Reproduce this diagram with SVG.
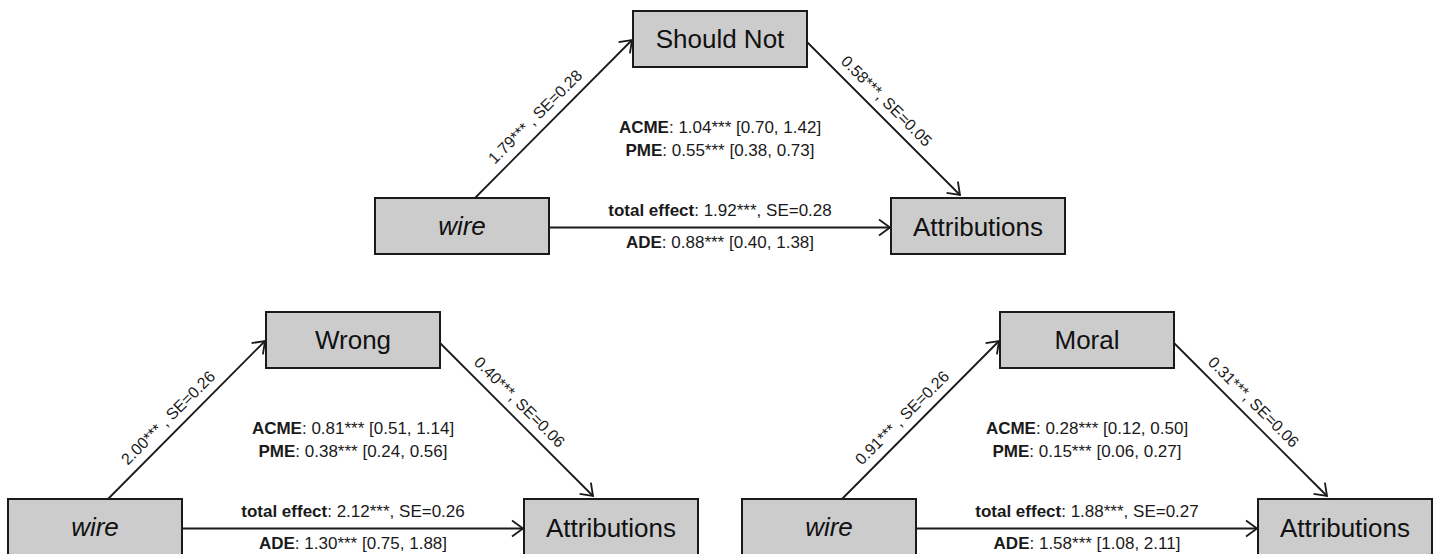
<svg xmlns="http://www.w3.org/2000/svg" width="1438" height="554" viewBox="0 0 1438 554">
<defs>
<style>
.box{fill:#cccccc;stroke:#1a1a1a;stroke-width:2}
.nt{font-family:"Liberation Sans",Arial,sans-serif;font-size:26px;fill:#111;text-anchor:middle}
.it{font-style:italic}
.lab{font-family:"Liberation Sans",Arial,sans-serif;font-size:17px;fill:#1a1a1a;text-anchor:middle}
.el{font-family:"Liberation Sans",Arial,sans-serif;font-size:16px;fill:#1a1a1a;text-anchor:middle}
.b{font-weight:bold}
.edge{stroke:#1a1a1a;stroke-width:1.8;fill:none;marker-end:url(#arr)}
</style>
<marker id="arr" markerUnits="userSpaceOnUse" markerWidth="16" markerHeight="22" viewBox="-14 -11 16 22" refX="0" refY="0" orient="auto">
<path d="M-11,-8 L0,0 L-11,8" fill="none" stroke="#1a1a1a" stroke-width="1.8"/>
</marker>
</defs>
<rect width="1438" height="554" fill="#ffffff"/>

<g id="connectors">
<line class="edge" x1="475" y1="198" x2="632" y2="40"/>
<line class="edge" x1="807" y1="42" x2="960" y2="195"/>
<line class="edge" x1="549" y1="227.5" x2="890" y2="227.5"/>
<line class="edge" x1="108" y1="499" x2="265" y2="341"/>
<line class="edge" x1="440" y1="343" x2="593" y2="496"/>
<line class="edge" x1="182" y1="528.5" x2="523" y2="528.5"/>
<line class="edge" x1="842" y1="499" x2="999" y2="341"/>
<line class="edge" x1="1174" y1="343" x2="1327" y2="496"/>
<line class="edge" x1="916" y1="528.5" x2="1257" y2="528.5"/>
</g>

<g id="top-wire"><rect class="box" x="375" y="198" width="174" height="56"/><text class="nt it" x="462" y="235">wire</text></g>
<g id="top-shouldnot"><rect class="box" x="633" y="11" width="174" height="56"/><text class="nt" x="720" y="48">Should Not</text></g>
<g id="top-attributions"><rect class="box" x="891" y="198" width="174" height="56"/><text class="nt" x="978" y="235.5">Attributions</text></g>

<g id="bl-wire"><rect class="box" x="8" y="499" width="174" height="56"/><text class="nt it" x="95" y="536">wire</text></g>
<g id="bl-wrong"><rect class="box" x="266" y="312" width="174" height="56"/><text class="nt" x="353" y="349">Wrong</text></g>
<g id="bl-attributions"><rect class="box" x="524" y="499" width="174" height="56"/><text class="nt" x="611" y="536.5">Attributions</text></g>

<g id="br-wire"><rect class="box" x="742" y="499" width="174" height="56"/><text class="nt it" x="829" y="536">wire</text></g>
<g id="br-moral"><rect class="box" x="1000" y="312" width="174" height="56"/><text class="nt" x="1087" y="349">Moral</text></g>
<g id="br-attributions"><rect class="box" x="1258" y="499" width="174" height="56"/><text class="nt" x="1345" y="536.5">Attributions</text></g>

<g id="labels">
<text class="el" transform="translate(539,120.6) rotate(-45)">1.79*** , SE=0.28</text>
<text class="el" transform="translate(882.7,104.9) rotate(45)">0.58***, SE=0.05</text>
<text class="lab" x="720" y="132.5"><tspan class="b">ACME</tspan>: 1.04*** [0.70, 1.42]</text>
<text class="lab" x="720" y="156"><tspan class="b">PME</tspan>: 0.55*** [0.38, 0.73]</text>
<text class="lab" x="720" y="216"><tspan class="b">total effect</tspan>: 1.92***, SE=0.28</text>
<text class="lab" x="720" y="247.5"><tspan class="b">ADE</tspan>: 0.88*** [0.40, 1.38]</text>

<text class="el" transform="translate(172,421.6) rotate(-45)">2.00*** , SE=0.26</text>
<text class="el" transform="translate(515.7,405.9) rotate(45)">0.40***, SE=0.06</text>
<text class="lab" x="353" y="433.5"><tspan class="b">ACME</tspan>: 0.81*** [0.51, 1.14]</text>
<text class="lab" x="353" y="457"><tspan class="b">PME</tspan>: 0.38*** [0.24, 0.56]</text>
<text class="lab" x="353" y="517"><tspan class="b">total effect</tspan>: 2.12***, SE=0.26</text>
<text class="lab" x="353" y="548.5"><tspan class="b">ADE</tspan>: 1.30*** [0.75, 1.88]</text>

<text class="el" transform="translate(906,421.6) rotate(-45)">0.91*** , SE=0.26</text>
<text class="el" transform="translate(1249.7,405.9) rotate(45)">0.31***, SE=0.06</text>
<text class="lab" x="1087" y="433.5"><tspan class="b">ACME</tspan>: 0.28*** [0.12, 0.50]</text>
<text class="lab" x="1087" y="457"><tspan class="b">PME</tspan>: 0.15*** [0.06, 0.27]</text>
<text class="lab" x="1087" y="517"><tspan class="b">total effect</tspan>: 1.88***, SE=0.27</text>
<text class="lab" x="1087" y="548.5"><tspan class="b">ADE</tspan>: 1.58*** [1.08, 2.11]</text>
</g>
</svg>
